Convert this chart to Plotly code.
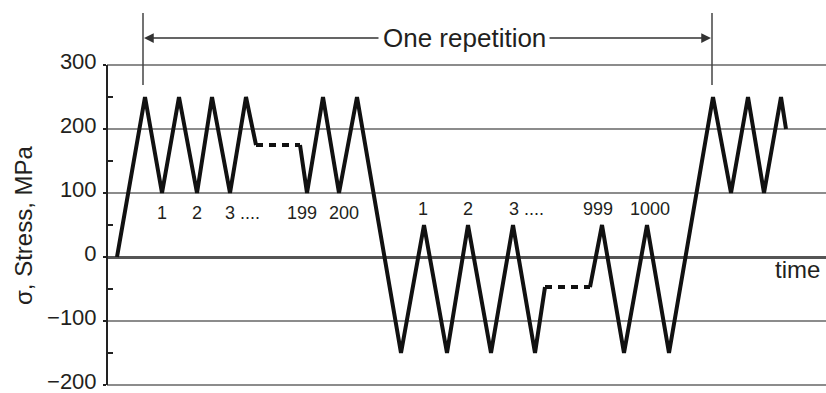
import plotly.graph_objects as go

# ---- data (time in arbitrary units, stress in MPa) ----
t_block1 = [117, 145, 162, 179, 197, 212, 230, 246, 256]
s_block1 = [0, 250, 100, 250, 100, 250, 100, 250, 175]

t_gap1 = [256, 300]
s_gap1 = [175, 175]

t_block2 = [300, 307, 323, 339, 357, 401, 424, 447, 468, 491, 513, 535, 545]
s_block2 = [175, 100, 250, 100, 250, -150, 50, -150, 50, -150, 50, -150, -47]

t_gap2 = [545, 590]
s_gap2 = [-47, -47]

t_block3 = [590, 602, 624, 647, 669, 713, 731, 748, 764, 781, 786]
s_block3 = [-47, 50, -150, 50, -150, 250, 100, 250, 100, 250, 200]

# cycle labels
lab_hi = ["1", "2", "3 ....", "199", "200"]
lab_hi_t = [162, 197, 223, 302, 344]
lab_hi_anchor = ["center", "center", "left", "center", "center"]
lab_hi_s = 68

lab_lo = ["1", "2", "3 ....", "999", "1000"]
lab_lo_t = [423, 468, 507, 598, 650]
lab_lo_anchor = ["center", "center", "left", "center", "center"]
lab_lo_s = 75

rep_start, rep_end = 143, 712
y_ticks = [-200, -100, 0, 100, 200, 300]
y_min, y_max = -200, 300

FONT = "Liberation Sans, Arial, sans-serif"
TXT = "#231f20"

# pixel helpers for layout (paper coordinates)
TOP, BOT = 62, 388          # plot area top / bottom in pixels
PH = BOT - TOP
PAD = 3 / 0.64              # 3 px of padding in data units
def py(p):
    return (BOT - p) / PH

fig = go.Figure()
line_solid = dict(color="#111111", width=4)
line_dash = dict(color="#111111", width=4, dash="7px,6px")
for tt, ss, ln in [(t_block1, s_block1, line_solid), (t_gap1, s_gap1, line_dash),
                   (t_block2, s_block2, line_solid), (t_gap2, s_gap2, line_dash),
                   (t_block3, s_block3, line_solid)]:
    fig.add_trace(go.Scatter(x=tt, y=ss, mode="lines", line=ln,
                             showlegend=False, hoverinfo="skip"))

annotations = []
for txt, tx, an in zip(lab_hi, lab_hi_t, lab_hi_anchor):
    annotations.append(dict(x=tx, y=lab_hi_s, xref="x", yref="y", text=txt,
                            showarrow=False, xanchor=an, yanchor="middle",
                            font=dict(size=18, color=TXT, family=FONT)))
for txt, tx, an in zip(lab_lo, lab_lo_t, lab_lo_anchor):
    annotations.append(dict(x=tx, y=lab_lo_s, xref="x", yref="y", text=txt,
                            showarrow=False, xanchor=an, yanchor="middle",
                            font=dict(size=18, color=TXT, family=FONT)))

# time label
annotations.append(dict(x=797, y=-20, xref="x", yref="y", text="time",
                        showarrow=False, xanchor="center", yanchor="middle",
                        font=dict(size=24, color=TXT, family=FONT)))

# "One repetition" with arrows
y_arrow = py(38)
annotations.append(dict(x=(383 + 545) / 2, y=y_arrow, xref="x", yref="paper",
                        text="One repetition", showarrow=False,
                        xanchor="center", yanchor="middle",
                        font=dict(size=26, color=TXT, family=FONT)))
annotations.append(dict(x=rep_start + 1, y=y_arrow, xref="x", yref="paper",
                        ax=380, ay=0, axref="x", ayref="pixel",
                        text="", showarrow=True, arrowhead=2, arrowsize=1.3,
                        arrowwidth=1.5, arrowcolor="#333333"))
annotations.append(dict(x=rep_end - 1, y=y_arrow, xref="x", yref="paper",
                        ax=548, ay=0, axref="x", ayref="pixel",
                        text="", showarrow=True, arrowhead=2, arrowsize=1.3,
                        arrowwidth=1.5, arrowcolor="#333333"))

# y-axis title
annotations.append(dict(x=(23 - 107) / 719, y=py(225), xref="paper", yref="paper",
                        text="σ, Stress, MPa", textangle=-90, showarrow=False,
                        xanchor="center", yanchor="middle",
                        font=dict(size=24, color=TXT, family=FONT)))

shapes = []
for xv in [rep_start, rep_end]:
    shapes.append(dict(type="line", xref="x", yref="paper", x0=xv, x1=xv,
                       y0=py(13), y1=py(85),
                       line=dict(color="#444444", width=1.5)))
# vertical axis line spanning exactly the value range
shapes.append(dict(type="line", xref="paper", yref="y", x0=0, x1=0,
                   y0=y_min, y1=y_max, line=dict(color="#222222", width=2)))

fig.update_layout(
    width=826, height=393,
    margin=dict(l=107, r=0, t=TOP, b=393 - BOT, autoexpand=False),
    paper_bgcolor="white", plot_bgcolor="white",
    annotations=annotations, shapes=shapes,
    xaxis=dict(range=[107, 826], showgrid=False, zeroline=False,
               showticklabels=False, ticks="", showline=False,
               automargin=False),
    yaxis=dict(range=[y_min - PAD, y_max + PAD], tickvals=y_ticks,
               automargin=False,
               showgrid=True, gridcolor="#8c8c8c", gridwidth=2,
               zeroline=True, zerolinecolor="#555555", zerolinewidth=2.5,
               showline=False,
               ticks="outside", ticklen=3, tickwidth=2, tickcolor="#222222",
               ticklabelstandoff=2, ticklabeloverflow="allow",
               ticklabelshift=-4,
               tickfont=dict(size=22, color=TXT, family=FONT),
               minor=dict(tickvals=[-150, -50, 50, 150, 250], ticks="inside",
                          ticklen=6, tickwidth=2,
                          tickcolor="#222222", showgrid=False)),
)

fig.write_html("out.html")
